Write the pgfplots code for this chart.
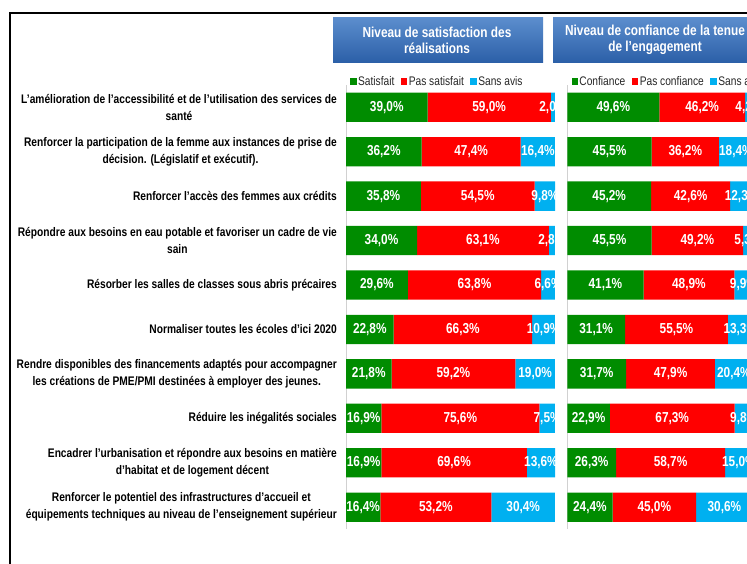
\documentclass[border=0pt]{standalone}
\usepackage{pgfplots}
\pgfplotsset{compat=1.18}
\usepackage{pgfplotstable}
\usepackage{fontspec}
\setmainfont{Liberation Sans}
\newfontfamily\nfont[FakeStretch=0.82]{Liberation Sans}
\definecolor{cgreen}{RGB}{0,140,0}
\definecolor{cred}{RGB}{255,0,0}
\definecolor{cblue}{RGB}{0,176,240}
\definecolor{hdtop}{RGB}{92,142,206}
\definecolor{hdbot}{RGB}{44,96,168}

\pgfplotstableread{
row sat pas sans
1  39.0 59.0 2.0
2  36.2 47.4 16.4
3  35.8 54.5 9.8
4  34.0 63.1 2.8
5  29.6 63.8 6.6
6  22.8 66.3 10.9
7  21.8 59.2 19.0
8  16.9 75.6 7.5
9  16.9 69.6 13.6
10 16.4 53.2 30.4
}\satdata

\pgfplotstableread{
row conf pas sans
1  49.6 46.2 4.2
2  45.5 36.2 18.4
3  45.2 42.6 12.3
4  45.5 49.2 5.3
5  41.1 48.9 9.9
6  31.1 55.5 13.3
7  31.7 47.9 20.4
8  22.9 67.3 9.8
9  26.3 58.7 15.0
10 24.4 45.0 30.6
}\confdata

\pgfplotsset{
  panel/.style={
    xbar stacked,
    scale only axis,
    height=444.4bp,
    xmin=0, xmax=100.2, ymin=0.5, ymax=10.5,
    y dir=reverse,
    bar width=29.3bp,
    axis x line=none,
    axis y line*=left,
    y axis line style={draw=black!18, line width=0.8bp},
    ytick={1,...,10},
    major tick length=0pt,
    point meta=explicit,
    nodes near coords={\pgfmathprintnumber[fixed,fixed zerofill,precision=1,use comma,assume math mode=true]{\pgfplotspointmeta}\%},
    every node near coord/.append style={font=\nfont\bfseries\fontsize{14.5}{16}\selectfont, text=white},
    legend columns=3,
    legend image code/.code={\fill[##1,draw=none] (0bp,-3.2bp) rectangle (6.4bp,3.2bp);},
    legend style={draw=none, fill=none, inner sep=0pt,
      at={(axis description cs:0,1)}, anchor=west, xshift=4bp, yshift=3.5bp,
      font=\nfont\fontsize{12.5}{14}\selectfont, text=black!85,
      nodes={inner sep=1.5bp},
      /tikz/every even column/.append style={column sep=5bp}},
  }
}

\begin{document}
\begin{tikzpicture}
\path[use as bounding box] (0bp,0bp) rectangle (747bp,-564bp);
\draw[line width=2.6bp] (10bp,-566bp) -- (10bp,-13bp) -- (749bp,-13bp);

% header boxes
\shade[top color=hdtop, bottom color=hdbot] (333bp,-17bp) rectangle (543bp,-62bp);
\node[text=white, align=center, font=\nfont\bfseries\fontsize{14.5}{16}\selectfont] at (437bp,-40bp) {Niveau de satisfaction des\\réalisations};
\shade[top color=hdtop, bottom color=hdbot] (553bp,-17bp) rectangle (760bp,-62bp);
\node[text=white, align=center, font=\nfont\bfseries\fontsize{14.5}{16}\selectfont] at (655bp,-40bp) {Niveau de confiance de la tenue\\de l’engagement};

\begin{scope}
\clip (0bp,0bp) rectangle (555.4bp,-564bp);
\begin{axis}[panel, width=209.4bp, at={(346bp,-85bp)}, anchor=north west,
  yticklabels={{L’amélioration de l’accessibilité et de l’utilisation des services de\\santé},
    {Renforcer la participation de la femme aux instances de prise de\\décision. (Législatif et  exécutif).},
    {Renforcer l’accès des femmes aux crédits},
    {Répondre aux besoins en eau potable et favoriser un cadre de vie\\sain},
    {Résorber les salles de classes sous abris  précaires},
    {Normaliser toutes les écoles d’ici 2020},
    {Rendre disponibles des financements adaptés pour accompagner\\les créations de PME/PMI destinées à employer des jeunes.},
    {Réduire les inégalités sociales},
    {Encadrer l’urbanisation et répondre aux besoins en matière\\d’habitat et de logement décent},
    {Renforcer le potentiel des infrastructures d’accueil et\\équipements techniques au niveau de l’enseignement supérieur}},
  yticklabel style={align=center, font=\nfont\bfseries\fontsize{12.5}{17}\selectfont, text=black, inner sep=0pt, xshift=-9bp},
]
\addplot[fill=cgreen, draw=none] table[x=sat, y=row, meta=sat] {\satdata};
\addplot[fill=cred, draw=none] table[x=pas, y=row, meta=pas] {\satdata};
\addplot[fill=cblue, draw=none] table[x=sans, y=row, meta=sans] {\satdata};
\legend{Satisfait, Pas satisfait, Sans avis}
\end{axis}
\end{scope}

\begin{axis}[panel, width=185.9bp, at={(567.3bp,-85bp)}, anchor=north west, yticklabels={}]
\addplot[fill=cgreen, draw=none] table[x=conf, y=row, meta=conf] {\confdata};
\addplot[fill=cred, draw=none] table[x=pas, y=row, meta=pas] {\confdata};
\addplot[fill=cblue, draw=none] table[x=sans, y=row, meta=sans] {\confdata};
\legend{Confiance, Pas confiance, Sans avis}
\end{axis}
\end{tikzpicture}
\end{document}
